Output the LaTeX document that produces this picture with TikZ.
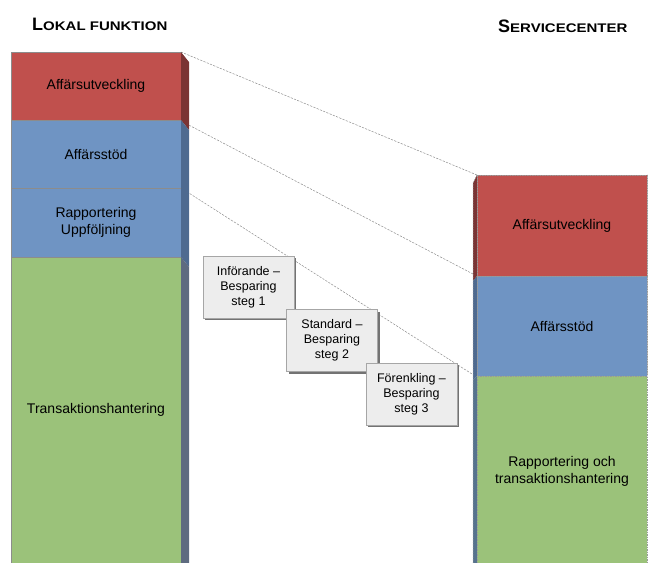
\documentclass[tikz,border=0pt]{standalone}
\usepackage{fontspec}
\setmainfont{Liberation Sans}
\usepackage{tkz-euclide}
\usetikzlibrary{shadows}

\definecolor{secred}{HTML}{C0504D}
\definecolor{secblue}{HTML}{6F94C3}
\definecolor{secgreen}{HTML}{9BC27A}
\definecolor{sidered}{HTML}{7B3434}
\definecolor{sideblue}{HTML}{4E6A90}
\definecolor{sidegreen}{HTML}{5E6B80}

\tikzset{
  stepbox/.style={draw=black!35,fill=black!7,minimum width=91pt,minimum height=62pt,
    inner sep=0pt,align=center,font=\fontsize{12.5}{15}\selectfont,
    drop shadow={shadow xshift=2pt,shadow yshift=-2pt,fill=black!55,opacity=1}},
  seclabel/.style={align=center,font=\fontsize{14}{17}\selectfont},
  guide/.style={draw=black!45,dash pattern=on 2pt off 1.5pt,line width=0.5pt},
  scedge/.style={draw=black!40,dash pattern=on 1.5pt off 1pt,line width=0.5pt}
}
\newcommand\fakesctitle[2]{{\fontsize{18}{18}\selectfont\bfseries #1}%
  \scalebox{1.2}[1]{\fontsize{12.5}{12.5}\selectfont\bfseries #2}}

\begin{document}
\begin{tikzpicture}[x=1pt,y=-1pt]
	\useasboundingbox (0,0) rectangle (649,563);
	\tkzDefPoints{11/52/L1,181/52/R1,11/120/L2,181/120/R2,11/188/L3,181/188/R3,
	  11/257/L4,181/257/R4,11/563/L5,181/563/R5}
	\tkzDefPoints{189/62/S1,189/130/S2,189/267/S4,189/563/S5,183/122/E2}
	\tkzDefPoints{477/175/A1,647/175/B1,477/276/A2,647/276/B2,477/376/A3,647/376/B3,
	  477/563/A4,647/563/B4}
	\tkzDefPoints{473/183/T1,473/281/T2,473/380/T3,473/563/T4,473/274/F2,472/374/F3}
	
	\tkzDrawSegments[guide](R1,A1 E2,F2 R3,F3)
	
	\tkzDrawPolygon[fill=secred,draw=black!45,line width=0.5pt](L1,R1,R2,L2)
	\tkzDrawPolygon[fill=secblue,draw=black!45,line width=0.5pt](L2,R2,R3,L3)
	\tkzDrawPolygon[fill=secblue,draw=black!45,line width=0.5pt](L3,R3,R4,L4)
	\tkzDrawPolygon[fill=secgreen,draw=none](L4,R4,R5,L5)
	\draw[black!45,line width=0.5pt] (L5) -- (L4) -- (R4);
	\tkzDrawPolygon[fill=sidered,draw=none](R1,S1,S2,R2)
	\tkzDrawPolygon[fill=sideblue,draw=none](R2,S2,S4,R4)
	\tkzDrawPolygon[fill=sidegreen,draw=none](R4,S4,S5,R5)
	
	\tkzDrawPolygon[fill=sidered,draw=none](T1,A1,A2,T2)
	\tkzDrawPolygon[fill=sideblue,draw=none](T2,A2,A3,T3)
	\tkzDrawPolygon[fill=sideblue!90!secgreen,draw=none](T3,A3,A4,T4)
	\tkzDrawPolygon[fill=secred,scedge](A1,B1,B2,A2)
	\tkzDrawPolygon[fill=secblue,scedge](A2,B2,B3,A3)
	\tkzDrawPolygon[fill=secgreen,draw=none](A3,B3,B4,A4)
	\draw[scedge] (A4) -- (A3) -- (B3) -- (B4);
	\draw[scedge] (T4) -- (T1) -- (A1);
	
	\node[stepbox] (s1) at (248.5,287) {Införande --\\Besparing\\steg 1};
	\node[stepbox] (s2) at (332,340.5) {Standard --\\Besparing\\steg 2};
	\node[stepbox] (s3) at (411.5,394) {Förenkling --\\Besparing\\steg 3};
	
	\node[seclabel] (la) at (96,86) {Affärsutveckling};
	\node[seclabel] (lb) at (96,154) {Affärsstöd};
	\node[seclabel] (lc) at (96,222) {Rapportering\\Uppföljning};
	\node[seclabel] (ld) at (96,410) {Transaktionshantering};
	\node[seclabel] (ra) at (562,225.5) {Affärsutveckling};
	\node[seclabel] (rb) at (562,326) {Affärsstöd};
	\node[seclabel] (rc) at (562,471) {Rapportering och\\transaktionshantering};
	
	\node[anchor=base west,inner sep=0pt] (tl) at (32,30) {\fakesctitle{L}{OKAL FUNKTION}};
	\node[anchor=base west,inner sep=0pt] (tr) at (498,32) {\fakesctitle{S}{ERVICECENTER}};
\end{tikzpicture}
\end{document}
